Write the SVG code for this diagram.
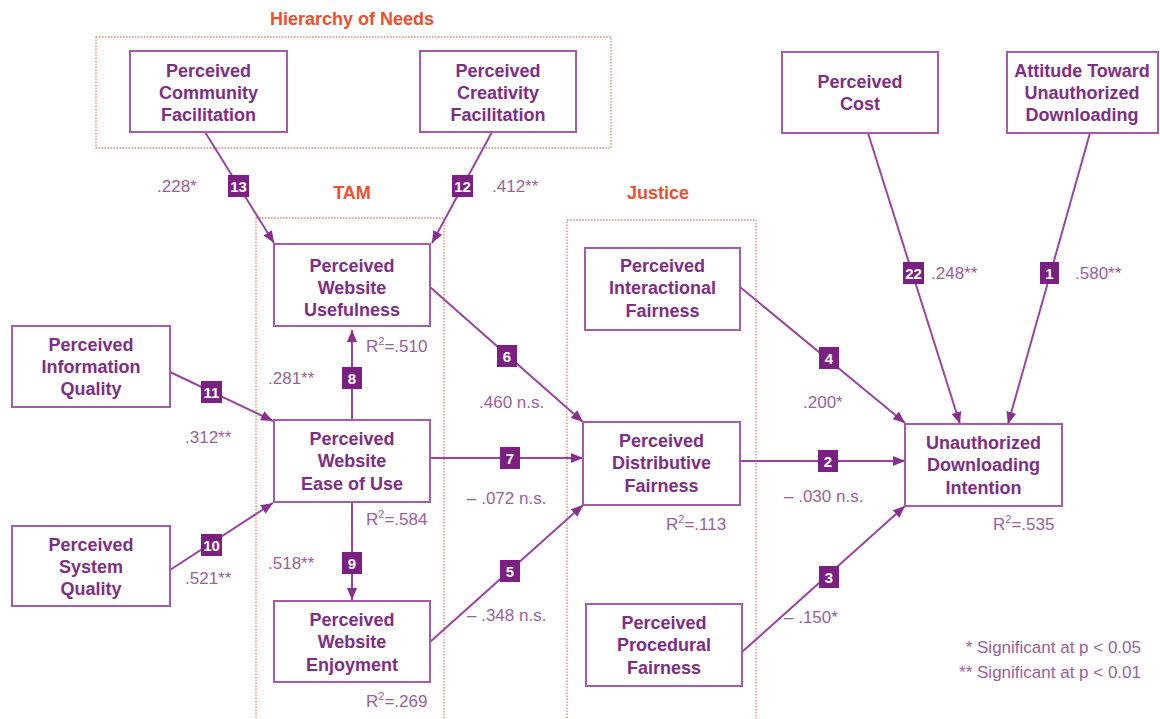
<svg xmlns="http://www.w3.org/2000/svg" width="1160" height="719" viewBox="0 0 1160 719">
<style>
.grp{fill:none;stroke:#f2806c;stroke-width:1.3;stroke-dasharray:1.5 1.5}
.ttl{font-family:"Liberation Sans",Arial,sans-serif;font-weight:bold;font-size:18px;fill:#f04e2c;text-anchor:middle}
.box{fill:#fff;stroke:#a55aaa;stroke-width:2}
.lbl{font-family:"Liberation Sans",Arial,sans-serif;font-weight:bold;font-size:18px;fill:#7e2d88;text-anchor:middle}
.num{font-family:"Liberation Sans",Arial,sans-serif;font-size:17px;fill:#9a5ea2}
.edge{stroke:#9a44a2;stroke-width:2;fill:none}
.bdg{fill:#7c1f82}
.bt{font-family:"Liberation Sans",Arial,sans-serif;font-weight:bold;font-size:15px;fill:#fff;text-anchor:middle}
.leg{font-family:"Liberation Sans",Arial,sans-serif;font-size:17px;fill:#9a5ea2;text-anchor:end}
</style>
<defs>
<marker id="ah" viewBox="0 0 12 10" refX="12" refY="5" markerWidth="12" markerHeight="10" markerUnits="userSpaceOnUse" orient="auto">
<path d="M0,0 L12,5 L0,10 z" fill="#8a2e92"/>
</marker>
</defs>
<rect width="1160" height="719" fill="#fff"/>

<g id="groups">
<rect class="grp" x="96" y="37" width="515" height="111"/>
<text class="ttl" x="352" y="25">Hierarchy of Needs</text>
<rect class="grp" x="256" y="218" width="188" height="510"/>
<text class="ttl" x="352" y="199">TAM</text>
<rect class="grp" x="567" y="220" width="189" height="510"/>
<text class="ttl" x="658" y="199">Justice</text>
</g>

<g id="connectors">
<line class="edge" x1="205" y1="132" x2="274" y2="243" marker-end="url(#ah)"/>
<line class="edge" x1="492" y1="132" x2="432" y2="243" marker-end="url(#ah)"/>
<line class="edge" x1="170" y1="372" x2="273" y2="421" marker-end="url(#ah)"/>
<line class="edge" x1="170" y1="570" x2="273" y2="503" marker-end="url(#ah)"/>
<line class="edge" x1="352" y1="420" x2="352" y2="330" marker-end="url(#ah)"/>
<line class="edge" x1="352" y1="502" x2="352" y2="600" marker-end="url(#ah)"/>
<line class="edge" x1="430" y1="287" x2="583" y2="422" marker-end="url(#ah)"/>
<line class="edge" x1="430" y1="458" x2="583" y2="458" marker-end="url(#ah)"/>
<line class="edge" x1="430" y1="642" x2="583" y2="505" marker-end="url(#ah)"/>
<line class="edge" x1="740" y1="287" x2="905" y2="423" marker-end="url(#ah)"/>
<line class="edge" x1="740" y1="461" x2="905" y2="461" marker-end="url(#ah)"/>
<line class="edge" x1="742" y1="652" x2="905" y2="506" marker-end="url(#ah)"/>
<line class="edge" x1="868" y1="133" x2="960" y2="424" marker-end="url(#ah)"/>
<line class="edge" x1="1090" y1="133" x2="1008" y2="424" marker-end="url(#ah)"/>

<rect class="bdg" x="228" y="175" width="21" height="22"/><text class="bt" x="238.5" y="191.5">13</text>
<rect class="bdg" x="452" y="175" width="21" height="22"/><text class="bt" x="462.5" y="191.5">12</text>
<rect class="bdg" x="201" y="381" width="21" height="22"/><text class="bt" x="211.5" y="397.5">11</text>
<rect class="bdg" x="201" y="534" width="21" height="22"/><text class="bt" x="211.5" y="550.5">10</text>
<rect class="bdg" x="342" y="367" width="20" height="22"/><text class="bt" x="352" y="383.5">8</text>
<rect class="bdg" x="342" y="552" width="20" height="22"/><text class="bt" x="352" y="568.5">9</text>
<rect class="bdg" x="497" y="345" width="20" height="22"/><text class="bt" x="507" y="361.5">6</text>
<rect class="bdg" x="500" y="447" width="20" height="22"/><text class="bt" x="510" y="463.5">7</text>
<rect class="bdg" x="500" y="560" width="20" height="22"/><text class="bt" x="510" y="576.5">5</text>
<rect class="bdg" x="819" y="347" width="20" height="22"/><text class="bt" x="829" y="363.5">4</text>
<rect class="bdg" x="818" y="450" width="20" height="22"/><text class="bt" x="828" y="466.5">2</text>
<rect class="bdg" x="819" y="566" width="20" height="22"/><text class="bt" x="829" y="582.5">3</text>
<rect class="bdg" x="903" y="262" width="21" height="22"/><text class="bt" x="913.5" y="278.5">22</text>
<rect class="bdg" x="1040" y="262" width="19" height="22"/><text class="bt" x="1049.5" y="278.5">1</text>

<text class="num" x="157" y="192">.228*</text>
<text class="num" x="492" y="192">.412**</text>
<text class="num" x="268" y="384">.281**</text>
<text class="num" x="185" y="443">.312**</text>
<text class="num" x="268" y="569">.518**</text>
<text class="num" x="185" y="584">.521**</text>
<text class="num" x="479" y="408">.460 n.s.</text>
<text class="num" x="467" y="504">– .072 n.s.</text>
<text class="num" x="467" y="621">– .348 n.s.</text>
<text class="num" x="803" y="408">.200*</text>
<text class="num" x="784" y="502">– .030 n.s.</text>
<text class="num" x="784" y="623">– .150*</text>
<text class="num" x="931" y="279">.248**</text>
<text class="num" x="1075" y="279">.580**</text>
</g>

<g id="n-community"><rect class="box" x="130" y="51" width="157" height="81"/>
<text class="lbl"><tspan x="208.5" y="77">Perceived</tspan><tspan x="208.5" y="99">Community</tspan><tspan x="208.5" y="121">Facilitation</tspan></text></g>
<g id="n-creativity"><rect class="box" x="420" y="51" width="156" height="81"/>
<text class="lbl"><tspan x="498" y="77">Perceived</tspan><tspan x="498" y="99">Creativity</tspan><tspan x="498" y="121">Facilitation</tspan></text></g>
<g id="n-cost"><rect class="box" x="782" y="52" width="156" height="81"/>
<text class="lbl"><tspan x="860" y="88">Perceived</tspan><tspan x="860" y="110">Cost</tspan></text></g>
<g id="n-attitude"><rect class="box" x="1007" y="52" width="151" height="81"/>
<text class="lbl"><tspan x="1082" y="77">Attitude Toward</tspan><tspan x="1082" y="99">Unauthorized</tspan><tspan x="1082" y="121">Downloading</tspan></text></g>
<g id="n-usefulness"><rect class="box" x="274" y="244" width="156" height="82"/>
<text class="lbl"><tspan x="352" y="272">Perceived</tspan><tspan x="352" y="294">Website</tspan><tspan x="352" y="316">Usefulness</tspan></text>
<text class="num" x="366" y="352">R<tspan font-size="11" dy="-7">2</tspan><tspan dy="7">=.510</tspan></text></g>
<g id="n-infoquality"><rect class="box" x="12" y="326" width="158" height="81"/>
<text class="lbl"><tspan x="91" y="351">Perceived</tspan><tspan x="91" y="373">Information</tspan><tspan x="91" y="395">Quality</tspan></text></g>
<g id="n-ease"><rect class="box" x="274" y="420" width="156" height="82"/>
<text class="lbl"><tspan x="352" y="445">Perceived</tspan><tspan x="352" y="467">Website</tspan><tspan x="352" y="490">Ease of Use</tspan></text>
<text class="num" x="366" y="525">R<tspan font-size="11" dy="-7">2</tspan><tspan dy="7">=.584</tspan></text></g>
<g id="n-sysquality"><rect class="box" x="12" y="526" width="158" height="80"/>
<text class="lbl"><tspan x="91" y="551">Perceived</tspan><tspan x="91" y="573">System</tspan><tspan x="91" y="595">Quality</tspan></text></g>
<g id="n-enjoyment"><rect class="box" x="274" y="601" width="156" height="81"/>
<text class="lbl"><tspan x="352" y="626">Perceived</tspan><tspan x="352" y="648">Website</tspan><tspan x="352" y="671">Enjoyment</tspan></text>
<text class="num" x="366" y="707">R<tspan font-size="11" dy="-7">2</tspan><tspan dy="7">=.269</tspan></text></g>
<g id="n-interactional"><rect class="box" x="585" y="248" width="155" height="82"/>
<text class="lbl"><tspan x="662.5" y="272">Perceived</tspan><tspan x="662.5" y="294">Interactional</tspan><tspan x="662.5" y="317">Fairness</tspan></text></g>
<g id="n-distributive"><rect class="box" x="583" y="422" width="157" height="83"/>
<text class="lbl"><tspan x="661.5" y="447">Perceived</tspan><tspan x="661.5" y="469">Distributive</tspan><tspan x="661.5" y="492">Fairness</tspan></text>
<text class="num" x="666" y="530">R<tspan font-size="11" dy="-7">2</tspan><tspan dy="7">=.113</tspan></text></g>
<g id="n-procedural"><rect class="box" x="586" y="604" width="156" height="82"/>
<text class="lbl"><tspan x="664" y="629">Perceived</tspan><tspan x="664" y="651">Procedural</tspan><tspan x="664" y="674">Fairness</tspan></text></g>
<g id="n-intention"><rect class="box" x="905" y="424" width="157" height="82"/>
<text class="lbl"><tspan x="983.5" y="449">Unauthorized</tspan><tspan x="983.5" y="471">Downloading</tspan><tspan x="983.5" y="494">Intention</tspan></text>
<text class="num" x="993" y="530">R<tspan font-size="11" dy="-7">2</tspan><tspan dy="7">=.535</tspan></text></g>

<g id="legend">
<text class="leg" x="1141" y="653">* Significant at p &lt; 0.05</text>
<text class="leg" x="1141" y="678">** Significant at p &lt; 0.01</text>
</g>
</svg>
